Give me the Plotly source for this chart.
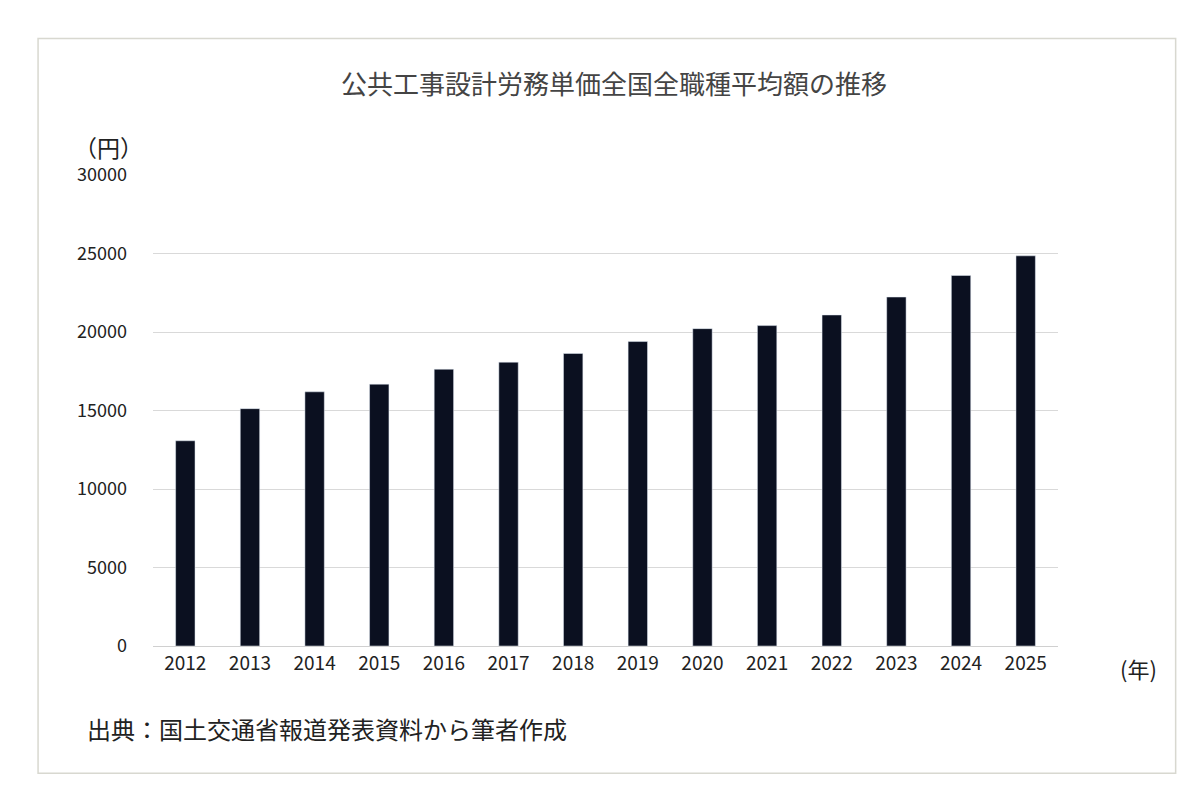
import plotly.graph_objects as go

years = [str(y) for y in range(2012, 2026)]
values = [13072, 15118, 16190, 16678, 17629, 18078, 18632, 19392, 20214, 20409, 21084, 22227, 23600, 24852]

font = "Noto Sans CJK JP"

fig = go.Figure(go.Bar(x=years, y=values, marker_color="#0b1020", width=0.3))

fig.update_layout(
    width=1200, height=799,
    paper_bgcolor="white", plot_bgcolor="white",
    margin=dict(l=145, r=150, t=167, b=161, autoexpand=False),
    showlegend=False,
    font=dict(family=font, size=19, color="#222"),
    title=dict(text="公共工事設計労務単価全国全職種平均額の推移", x=0.505, y=0.915,
               xanchor="center", font=dict(size=26, color="#444")),
    shapes=[dict(type="rect", xref="paper", yref="paper", x0=-0.127, x1=1.130, y0=-0.27, y1=1.29,
                 line=dict(color="#d8d8d0", width=1.5))],
    annotations=[
        dict(text="（円）", x=-0.09, y=1.10, xref="paper", yref="paper", showarrow=False,
             xanchor="left", font=dict(size=23, color="#222")),
        dict(text="(年)", x=1.066, y=-0.085, xref="paper", yref="paper", showarrow=False,
             xanchor="left", font=dict(size=22, color="#222")),
        dict(text="出典：国土交通省報道発表資料から筆者作成", x=-0.075, y=-0.217, xref="paper", yref="paper",
             showarrow=False, xanchor="left", font=dict(size=24, color="#222")),
    ],
)
fig.update_xaxes(showline=True, linecolor="#d0d0d0", tickfont=dict(size=19), ticks="")
fig.update_yaxes(range=[0, 30000], dtick=5000, tickformat="d", gridcolor="#d9d9d9", zeroline=False,
                 tickfont=dict(size=18), ticklabelstandoff=25)

fig.write_html("out.html")
